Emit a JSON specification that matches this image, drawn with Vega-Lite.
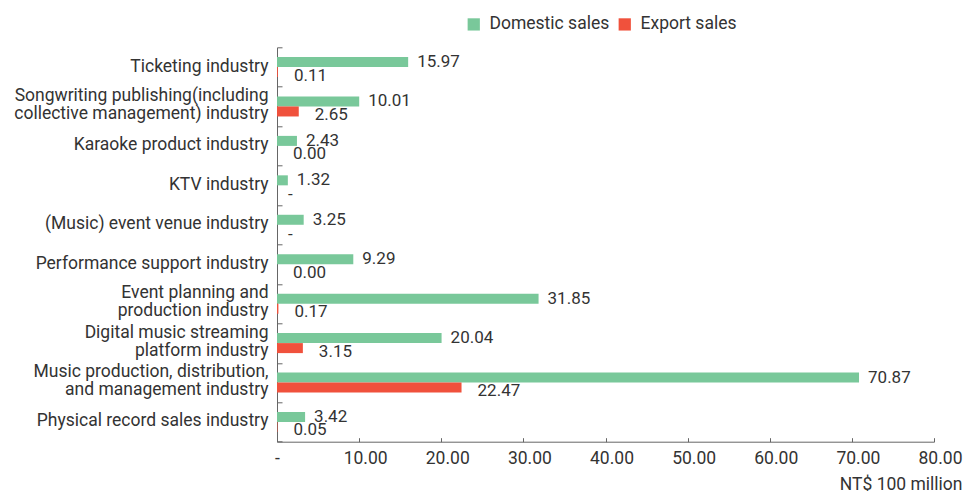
{
  "$schema": "https://vega.github.io/schema/vega-lite/v6.json",
  "width": 657,
  "height": 394.4,
  "autosize": {"type": "none"},
  "padding": {"left": 277, "top": 47.3, "right": 30, "bottom": 49.3},
  "background": "white",
  "config": {
    "view": {"stroke": null},
    "font": "Roboto",
    "text": {"font": "Roboto", "fontSize": 17, "color": "#333333"}
  },
  "data": {
    "values": [
      {"industry": "Ticketing industry", "series": "Domestic sales", "value": 15.97, "label": "15.97"},
      {"industry": "Ticketing industry", "series": "Export sales", "value": 0.11, "label": "0.11"},
      {"industry": "Songwriting publishing(including|collective management) industry", "series": "Domestic sales", "value": 10.01, "label": "10.01"},
      {"industry": "Songwriting publishing(including|collective management) industry", "series": "Export sales", "value": 2.65, "label": "2.65"},
      {"industry": "Karaoke product industry", "series": "Domestic sales", "value": 2.43, "label": "2.43"},
      {"industry": "Karaoke product industry", "series": "Export sales", "value": 0.0, "label": "0.00"},
      {"industry": "KTV industry", "series": "Domestic sales", "value": 1.32, "label": "1.32"},
      {"industry": "KTV industry", "series": "Export sales", "value": 0, "label": "-"},
      {"industry": "(Music) event venue industry", "series": "Domestic sales", "value": 3.25, "label": "3.25"},
      {"industry": "(Music) event venue industry", "series": "Export sales", "value": 0, "label": "-"},
      {"industry": "Performance support industry", "series": "Domestic sales", "value": 9.29, "label": "9.29"},
      {"industry": "Performance support industry", "series": "Export sales", "value": 0.0, "label": "0.00"},
      {"industry": "Event planning and|production industry", "series": "Domestic sales", "value": 31.85, "label": "31.85"},
      {"industry": "Event planning and|production industry", "series": "Export sales", "value": 0.17, "label": "0.17"},
      {"industry": "Digital music streaming|platform industry", "series": "Domestic sales", "value": 20.04, "label": "20.04"},
      {"industry": "Digital music streaming|platform industry", "series": "Export sales", "value": 3.15, "label": "3.15"},
      {"industry": "Music production, distribution,|and management industry", "series": "Domestic sales", "value": 70.87, "label": "70.87"},
      {"industry": "Music production, distribution,|and management industry", "series": "Export sales", "value": 22.47, "label": "22.47"},
      {"industry": "Physical record sales industry", "series": "Domestic sales", "value": 3.42, "label": "3.42"},
      {"industry": "Physical record sales industry", "series": "Export sales", "value": 0.05, "label": "0.05"}
    ]
  },
  "encoding": {
    "y": {
      "field": "industry",
      "type": "nominal",
      "sort": null,
      "scale": {
        "domain": [
          "Ticketing industry",
          "Songwriting publishing(including|collective management) industry",
          "Karaoke product industry",
          "KTV industry",
          "(Music) event venue industry",
          "Performance support industry",
          "Event planning and|production industry",
          "Digital music streaming|platform industry",
          "Music production, distribution,|and management industry",
          "Physical record sales industry"
        ],
        "paddingInner": 0,
        "paddingOuter": 0
      },
      "axis": {
        "title": null,
        "labelExpr": "split(datum.label, '|')",
        "labelFont": "Roboto",
        "labelFontSize": 17.5,
        "labelColor": "#333333",
        "labelLineHeight": 18,
        "labelOffset": {"condition": {"test": "indexof(datum.label, '|') >= 0", "value": -11}, "value": -1},
        "labelPadding": 14,
        "labelLimit": 400,
        "tickBand": "extent",
        "tickSize": -5,
        "tickColor": "#666666",
        "domainColor": "#666666",
        "grid": false
      }
    },
    "yOffset": {
      "field": "series",
      "type": "nominal",
      "scale": {"paddingInner": 0, "paddingOuter": 0.97}
    },
    "x": {
      "field": "value",
      "type": "quantitative",
      "scale": {"domain": [0, 80], "nice": false},
      "axis": {
        "title": "NT$ 100 million",
        "titleFont": "Roboto",
        "titleFontSize": 17.5,
        "titleFontWeight": "normal",
        "titleColor": "#333333",
        "titleAlign": "right",
        "titleAnchor": "end",
        "titleX": 685,
        "titleY": 48,
        "titleBaseline": "alphabetic",
        "values": [0, 10, 20, 30, 40, 50, 60, 70, 80],
        "labelExpr": "datum.value == 0 ? '-' : format(datum.value, '.2f')",
        "labelFlush": false,
        "labelOverlap": false,
        "labelOffset": {"condition": {"test": "datum.value == 0", "value": 0}, "value": 6},
        "labelFont": "Roboto",
        "labelFontSize": 17.5,
        "labelColor": "#333333",
        "labelPadding": 11.5,
        "tickSize": -4,
        "tickColor": "#666666",
        "domainColor": "#666666",
        "grid": false
      }
    }
  },
  "layer": [
    {
      "mark": {"type": "bar"},
      "encoding": {
        "color": {
          "field": "series",
          "type": "nominal",
          "scale": {"domain": ["Domestic sales", "Export sales"], "range": ["#79C89A", "#F0513C"]},
          "legend": {
            "title": null,
            "orient": "none",
            "legendX": 188,
            "legendY": -32,
            "direction": "horizontal",
            "symbolType": "square",
            "symbolSize": 150,
            "symbolStrokeWidth": 0,
            "labelFont": "Roboto",
            "labelFontSize": 17.5,
            "labelColor": "#333333",
            "labelOffset": 7,
            "columnPadding": 6
          }
        }
      }
    },
    {
      "transform": [{"filter": "datum.series == 'Domestic sales'"}],
      "mark": {"type": "text", "align": "left", "baseline": "middle", "dx": 9, "dy": 0},
      "encoding": {"text": {"field": "label", "type": "nominal"}}
    },
    {
      "transform": [{"filter": "datum.series == 'Export sales' && datum.label != '-'"}],
      "mark": {"type": "text", "align": "left", "baseline": "middle", "dx": 16, "dy": 3.5},
      "encoding": {"text": {"field": "label", "type": "nominal"}}
    },
    {
      "transform": [{"filter": "datum.series == 'Export sales' && datum.label == '-'"}],
      "mark": {"type": "text", "align": "left", "baseline": "middle", "dx": 11, "dy": 5},
      "encoding": {"text": {"field": "label", "type": "nominal"}}
    }
  ]
}
